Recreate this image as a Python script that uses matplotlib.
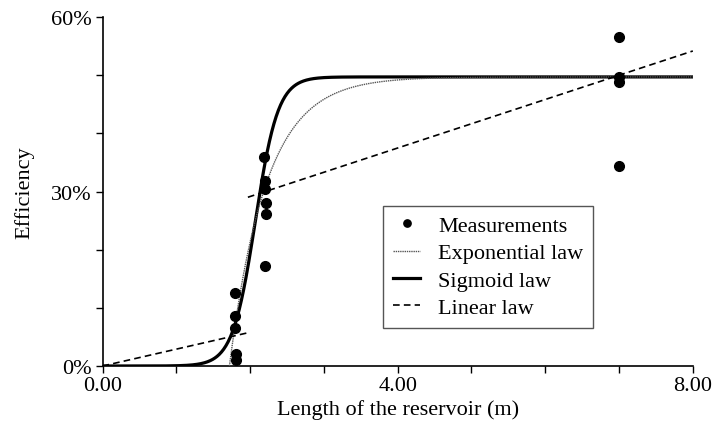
import numpy as np
import matplotlib
matplotlib.use("Agg")
import matplotlib.pyplot as plt
from matplotlib.ticker import MultipleLocator, FuncFormatter

plt.rcParams['font.family'] = ['Liberation Serif', 'DejaVu Serif']

# Measurements (length in m, efficiency in %)
meas_x = [1.80, 1.80, 1.80, 1.81, 1.81,
          2.19, 2.20, 2.20, 2.21, 2.21, 2.20,
          7.00, 7.00, 7.00, 7.00]
meas_y = [12.6, 8.6, 6.5, 2.0, 1.0,
          36.0, 31.8, 30.5, 28.1, 26.1, 17.2,
          56.5, 49.7, 48.8, 34.4]

# Fitted law parameters
sig_max, sig_k, sig_x0 = 49.7, 6.5, 2.07           # sigmoid law
exp_max, exp_k, exp_x0 = 49.7, 2.0, 1.72           # exponential law
lin1_slope, lin1_end = 2.9, 2.0                    # linear law, first branch
lin2_intercept, lin2_slope, lin2_start = 20.8, 4.17, 1.97  # second branch

x_ticks = [0, 4, 8]
y_ticks = [0, 30, 60]

FS = 16

fig = plt.figure(figsize=(7.15, 4.35), dpi=100)
ax = fig.add_axes([0.1434, 0.1563, 0.969 - 0.1434, 0.9586 - 0.1563])

xs = np.linspace(0, 8, 800)
ax.plot(xs, sig_max / (1 + np.exp(-sig_k * (xs - sig_x0))), color='black', lw=2.3,
        label='Sigmoid law', zorder=3)
xe = np.linspace(exp_x0, 8, 700)
ax.plot(xe, exp_max * (1 - np.exp(-exp_k * (xe - exp_x0))), color='#555555', lw=1.0,
        ls=(0, (1, 0.6)), label='Exponential law', zorder=3)
xl1 = np.array([0, lin1_end])
ax.plot(xl1, lin1_slope * xl1, color='black', lw=1.2, ls=(0, (4, 2.5)),
        label='Linear law', zorder=3)
xl2 = np.array([lin2_start, 8])
ax.plot(xl2, lin2_intercept + lin2_slope * xl2, color='black', lw=1.2, ls=(0, (4, 2.5)),
        zorder=3)
ax.plot(meas_x, meas_y, 'o', color='black', ms=7, ls='none', label='Measurements', zorder=4)

ax.set_xlim(0, 8)
ax.set_ylim(0, 60)
ax.set_xticks(x_ticks)
ax.set_yticks(y_ticks)
ax.xaxis.set_minor_locator(MultipleLocator(1))
ax.yaxis.set_minor_locator(MultipleLocator(10))
ax.xaxis.set_major_formatter(FuncFormatter(lambda v, p: f"{v:.2f}"))
ax.yaxis.set_major_formatter(FuncFormatter(lambda v, p: f"{v:.0f}%"))
ax.tick_params(which='both', direction='out', length=5, width=1.0, labelsize=FS,
               colors='black')
ax.tick_params(axis='x', which='major', pad=2)
ax.tick_params(axis='y', which='major', pad=3)
for s in ['top', 'right']:
    ax.spines[s].set_visible(False)
for s in ['left', 'bottom']:
    ax.spines[s].set_linewidth(1.2)

ax.set_xlabel('Length of the reservoir (m)', fontsize=FS, labelpad=3)
ax.set_ylabel('Efficiency', fontsize=FS, labelpad=12)

handles, labels = ax.get_legend_handles_labels()
order = ['Measurements', 'Exponential law', 'Sigmoid law', 'Linear law']
hd = {l: h for h, l in zip(handles, labels)}
leg = ax.legend([hd[o] for o in order], order, loc='upper left',
                bbox_to_anchor=((382.7 - 102.5) / 590.5, 1 - (206.7 - 18) / 349),
                fontsize=FS, frameon=True, fancybox=False, edgecolor='#555555',
                framealpha=1, handlelength=1.25, handletextpad=0.8, borderpad=0.45,
                labelspacing=0.3, markerscale=0.75, borderaxespad=0)
leg.get_frame().set_linewidth(1.0)

fig.savefig('out.png', dpi=100)
